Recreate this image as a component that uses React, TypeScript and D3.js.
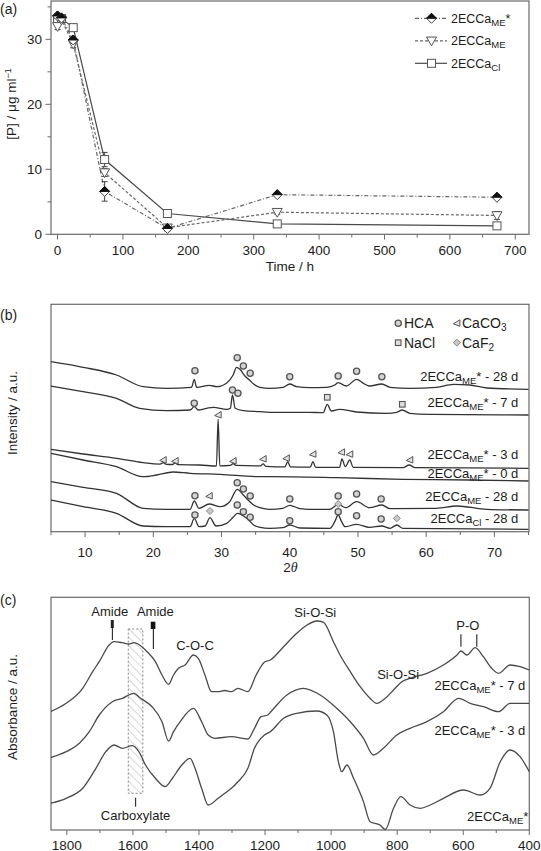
import React from 'react';
import * as d3 from 'd3';

const W = 541, H = 851;
const FONT = "'Liberation Sans', Arial, Helvetica, sans-serif";
const TXT = '#1c1c1c';
const FRAME = '#6a6a6a';

// ---------- Panel (a): [P] vs time ----------
const timeH = [0, 6, 24, 72, 168, 336, 672];
const pMEstar = [33.6, 33.3, 29.9, 6.6, 0.9, 6.1, 5.7];
const pMEstarErr = [0.4, 0.3, 0.5, 1.5, 0.3, 0.3, 0.3];
const pME = [32.0, 33.0, 29.3, 9.5, 1.0, 3.4, 2.9];
const pMEErr = [0.5, 0.3, 0.6, 0.6, 0.5, 0.3, 0.6];
const pCI = [33.0, 33.2, 31.8, 11.5, 3.2, 1.6, 1.3];
const pCIErr = [0.4, 0.3, 0.4, 1.1, 0.3, 0.4, 0.3];
const aXMajor = [0, 100, 200, 300, 400, 500, 600, 700];
const aXMinor = [50, 150, 250, 350, 450, 550, 650];
const aYMajor = [0, 10, 20, 30];
const aYMinor = [5, 15, 25, 35];

// ---------- Panel (b): XRD ----------
type Pt = [number, number];
const xrdMEstar28d: Pt[] = [[5,170.0],[9.7,164.4],[14.6,156.7],[18.5,145.0],[21.9,143.4],[25.6,144.4],[26.0,152.4],[26.35,144.4],[28.2,146.4],[29.3,145.0],[30.8,149.0],[31.7,156.7],[32.2,164.4],[32.7,162.4],[33.4,156.0],[34.1,151.7],[34.7,147.7],[35.65,144.4],[37.06,143.4],[39.0,144.4],[40.0,147.7],[41.0,145.0],[42.9,144.0],[45.4,144.4],[46.6,146.7],[47.1,149.0],[48.3,145.7],[49.8,152.4],[50.8,148.4],[51.7,145.7],[53.5,147.7],[54.7,144.4],[57.6,143.4],[61.5,144.4],[64.0,147.4],[66.4,146.7],[68.9,143.7],[75,142.4]];
const xrdMEstar7d: Pt[] = [[5,145.7],[9.7,140.0],[14.6,133.4],[18.0,123.4],[21.9,121.0],[25.4,121.7],[26.0,125.0],[26.6,121.7],[27.8,123.4],[28.8,124.4],[30.75,122.4],[31.3,123.5],[31.6,136.7],[32.0,123.4],[33.2,121.0],[35.65,120.0],[37.06,119.4],[42.9,119.4],[44.9,119.0],[45.5,127.4],[46.1,120.7],[47.3,122.4],[49.8,119.7],[54.2,118.4],[55.7,119.4],[56.5,121.7],[57.6,118.4],[60.55,117.4],[75,116.7]];
const xrdMEstar3d: Pt[] = [[5,82.4],[9.7,77.7],[14.6,73.4],[18.5,69.0],[21.0,67.6],[21.45,69.0],[21.9,67.4],[22.8,67.2],[23.2,68.8],[23.6,67.0],[26.8,66.7],[29.25,65.7],[29.5,112.4],[29.75,65.9],[31.3,66.4],[31.7,68.0],[32.1,66.3],[35.7,65.8],[36.1,67.8],[36.5,65.4],[39.3,64.9],[39.7,70.0],[40.1,64.8],[43.0,64.5],[43.4,70.0],[43.8,64.4],[47.3,64.4],[47.65,72.7],[48.15,65.0],[48.8,71.7],[49.3,64.4],[56.6,64.0],[57.5,66.7],[58.4,64.0],[75,63.4]];
const xrdMEstar0d: Pt[] = [[5,78.4],[9.7,71.7],[14.6,65.0],[18.5,55.0],[20.5,56.7],[22.9,59.7],[25.4,58.4],[29.8,57.4],[35.65,55.0],[37.06,55.0],[46.85,54.0],[56.6,52.4],[66.4,51.7],[75,50.7]];
const xrdME28d: Pt[] = [[5,50.0],[9.7,44.4],[14.6,38.4],[18.5,23.4],[21.9,22.4],[25.4,22.4],[26.0,30.7],[26.7,23.4],[28.2,27.7],[29.8,25.0],[31.2,30.0],[32.3,42.4],[33.2,36.7],[33.9,31.7],[34.7,26.7],[35.65,24.0],[37.06,22.4],[39.0,23.4],[40.0,26.4],[41.5,23.0],[42.9,22.4],[45.9,22.4],[47.1,27.4],[48.2,24.0],[49.8,30.0],[51.7,24.0],[53.5,26.7],[54.7,23.0],[61.5,23.4],[64.5,25.7],[68.9,22.4],[75,21.7]];
const xrdCI28d: Pt[] = [[5,31.7],[9.7,25.0],[14.6,18.4],[18.5,5.7],[21.9,5.0],[25.4,5.0],[26.0,13.4],[26.7,5.0],[27.6,5.7],[28.3,14.0],[29.2,5.7],[30.75,8.4],[31.7,14.4],[32.3,18.4],[33.7,13.4],[34.7,6.7],[35.65,4.4],[37.06,3.4],[39.0,4.0],[40.0,6.7],[41.5,3.7],[45.9,3.4],[46.6,10.0],[47.1,16.7],[47.6,10.0],[48.1,5.0],[49.8,7.4],[51.7,4.4],[53.5,5.7],[54.7,3.4],[55.7,6.7],[56.6,3.4],[75,2.4]];
const xrdCurves = [xrdMEstar28d, xrdMEstar7d, xrdMEstar3d, xrdMEstar0d, xrdME28d, xrdCI28d];
const xrdLabelSub = ['ME', 'ME', 'ME', 'ME', 'ME', 'Cl'];
const xrdLabelStar = ['*', '*', '*', '*', '', ''];
const xrdLabelTail = [' - 28 d', ' - 7 d', ' - 3 d', ' - 0 d', ' - 28 d', ' - 28 d'];
const xrdLabelLevel = [150.7, 124.7, 72.7, 53.7, 30.7, 8.7];
const hcaMarks: Pt[] = [[26.1,161.0],[32.3,174.0],[33.2,165.7],[34.2,158.4],[40.0,155.0],[47.1,155.7],[49.8,160.4],[53.5,155.0],[26.0,128.4],[31.6,141.7],[32.4,138.4],[26.1,36.0],[32.3,49.0],[33.2,42.7],[34.2,35.7],[40.0,32.7],[47.1,35.7],[49.8,37.7],[53.4,32.7],[26.1,16.7],[32.3,26.7],[33.2,20.0],[34.2,14.4],[40.0,11.0],[47.1,20.0],[49.8,16.0],[53.4,12.7]];
const naclMarks: Pt[] = [[45.5,134.4],[56.5,127.4]];
const caco3Marks: Pt[] = [[21.45,71.7],[23.2,70.7],[29.5,116.7],[31.7,70.7],[36.1,72.7],[39.5,73.4],[43.4,77.4],[47.6,79.4],[48.8,77.4],[57.6,71.7],[28.2,35.7]];
const caf2Marks: Pt[] = [[28.3,20.7],[55.7,13.4],[47.1,27.7]];
const bXMajor = [10, 20, 30, 40, 50, 60, 70];
const bXMinor = [5, 15, 25, 35, 45, 55, 65, 75];

// ---------- Panel (c): FTIR ----------
const ftir7d: Pt[] = [[1850,118.3],[1802,126.7],[1752,141.7],[1722,158.3],[1702,168.3],[1672,185.0],[1657,188.3],[1632,187.3],[1612,186.0],[1597,187.3],[1577,184.3],[1557,178.3],[1532,168.3],[1512,155.0],[1492,145.7],[1477,155.0],[1462,161.7],[1442,165.0],[1417,175.0],[1402,171.7],[1382,155.0],[1362,138.3],[1342,138.3],[1322,139.5],[1302,138.3],[1282,141.7],[1252,138.3],[1227,155.0],[1202,167.7],[1184,170.0],[1144,183.3],[1104,196.7],[1073,205.0],[1043,209.0],[1023,207.7],[993,188.3],[973,175.0],[942,158.3],[912,143.3],[882,131.7],[862,126.7],[836,131.7],[811,140.0],[786,148.3],[761,151.7],[710,156.7],[660,165.0],[619,175.0],[607,179.0],[589,175.0],[564,182.3],[539,173.3],[514,161.7],[493,156.7],[458,165.0],[428,163.3],[400,160.0]];
const ftir3d: Pt[] = [[1850,72.3],[1802,78.3],[1762,86.7],[1732,98.3],[1702,115.0],[1662,128.3],[1632,131.7],[1597,136.7],[1577,131.7],[1542,123.3],[1512,108.3],[1492,89.0],[1477,98.3],[1457,108.3],[1417,121.7],[1392,108.3],[1372,95.0],[1352,91.7],[1302,93.3],[1252,91.0],[1232,101.7],[1212,113.3],[1192,115.0],[1184,117.7],[1134,135.0],[1084,141.7],[1033,135.0],[983,121.7],[942,108.3],[902,91.7],[872,75.0],[842,81.7],[801,95.0],[761,101.7],[710,108.3],[660,118.3],[614,131.7],[579,126.7],[539,123.3],[493,118.3],[458,126.7],[400,126.7]];
const ftir0d: Pt[] = [[1850,26.7],[1802,31.7],[1752,41.7],[1712,61.7],[1682,78.3],[1657,85.0],[1632,81.7],[1602,84.3],[1582,78.3],[1562,65.0],[1532,51.7],[1502,43.3],[1482,51.0],[1452,65.0],[1427,71.7],[1412,61.7],[1392,41.7],[1372,25.0],[1342,31.7],[1322,36.7],[1302,41.7],[1282,48.3],[1252,61.7],[1232,81.7],[1202,95.0],[1184,98.3],[1144,111.7],[1104,116.7],[1043,119.0],[1013,115.0],[993,98.3],[978,68.3],[968,58.3],[952,65.0],[932,51.7],[902,28.3],[882,8.3],[852,5.0],[836,0.5],[811,21.7],[789,33.3],[761,25.0],[730,21.7],[700,25.0],[660,31.7],[599,40.0],[549,35.0],[519,41.7],[488,68.3],[458,80.0],[428,73.3],[400,58.3]];
const ftirCurves = [ftir7d, ftir3d, ftir0d];
const ftirLabelTail = [' - 7 d', ' - 3 d', ''];
const ftirLabelLevel = [140, 95, 9];
const cXMajor = [1800, 1600, 1400, 1200, 1000, 800, 600, 400];
const cXMinor = [1700, 1500, 1300, 1100, 900, 700, 500];
const bandLabels = [
  { text: 'Amide', wn: 1670, v: 214 },
  { text: 'Amide', wn: 1532, v: 214 },
  { text: 'C-O-C', wn: 1412, v: 180 },
  { text: 'Si-O-Si', wn: 1048, v: 213 },
  { text: 'Si-O-Si', wn: 797, v: 151 },
  { text: 'P-O', wn: 586, v: 200 },
  { text: 'Carboxylate', wn: 1592, v: 10 },
];
const poLines = [607, 559];

function EcLabel({ x, y, sub, star, tail, anchor, size, subSize }:
  { x: number; y: number; sub: string; star: string; tail: string; anchor: string; size: number; subSize: number }) {
  return (
    <text x={x} y={y} textAnchor={anchor} fontSize={size} fill={TXT}>
      <tspan>2ECCa</tspan>
      <tspan dy={3} fontSize={subSize}>{sub}</tspan>
      <tspan dy={-3}>{star}{tail}</tspan>
    </text>
  );
}

function Diamond({ x, y, s }: { x: number; y: number; s: number }) {
  return (
    <g transform={`translate(${x},${y})`}>
      <path d={`M0,${-s}L${s},0L0,${s}L${-s},0Z`} fill="#fff" stroke="#444" strokeWidth={1} />
      <path d={`M0,${-s}L${s},0L${-s},0Z`} fill="#111" stroke="#111" strokeWidth={1} />
    </g>
  );
}
function TriDown({ x, y, s }: { x: number; y: number; s: number }) {
  return <path transform={`translate(${x},${y})`} d={`M${-s},${-s * 0.75}L${s},${-s * 0.75}L0,${s}Z`} fill="#fff" stroke="#555" strokeWidth={1} />;
}
function Sq({ x, y, s }: { x: number; y: number; s: number }) {
  return <rect x={x - s} y={y - s} width={2 * s} height={2 * s} fill="#fff" stroke="#555" strokeWidth={1} />;
}

export default function App() {
  // scales
  const ax = d3.scaleLinear().domain([-10, 721]).range([51, 529]);
  const ay = d3.scaleLinear().domain([0, 35.9]).range([234.3, 1]);
  const bx = d3.scaleLinear().domain([5, 75]).range([51, 528.5]);
  const by = d3.scaleLinear().domain([0, 227.4]).range([531.7, 304.3]);
  const cx = d3.scaleLinear().domain([1848, 400]).range([51, 529.3]);
  const cy = d3.scaleLinear().domain([0, 232.7]).range([830, 597.3]);

  const seriesA = [
    { vals: pCI, err: pCIErr, dash: '', color: '#4a4a4a', kind: 'sq', sub: 'Cl', star: '' },
    { vals: pME, err: pMEErr, dash: '3,2', color: '#666', kind: 'tri', sub: 'ME', star: '' },
    { vals: pMEstar, err: pMEstarErr, dash: '4,2,1,2', color: '#666', kind: 'dia', sub: 'ME', star: '*' },
  ];
  const lineA = (vals: number[]) =>
    d3.line<number>().x((_, i) => ax(timeH[i])).y((d) => ay(d))(vals) || '';
  const marker = (kind: string, x: number, y: number, key?: any) =>
    kind === 'sq' ? <Sq key={key} x={x} y={y} s={4} /> : kind === 'tri' ? <TriDown key={key} x={x} y={y} s={5} /> : <Diamond key={key} x={x} y={y} s={5} />;

  const lineB = d3.line<Pt>().x((d) => bx(d[0])).y((d) => by(d[1])).curve(d3.curveMonotoneX);
  const lineC = d3.line<Pt>().x((d) => cx(d[0])).y((d) => cy(d[1])).curve(d3.curveMonotoneX);

  const legendA = [seriesA[2], seriesA[1], seriesA[0]];

  return (
    <svg width={W} height={H} style={{ position: 'absolute', left: 0, top: 0, background: '#fff' }} fontFamily={FONT}>
      <defs>
        <pattern id="hatch" width="6" height="6" patternUnits="userSpaceOnUse" patternTransform="rotate(-45)">
          <line x1="0" y1="0" x2="0" y2="6" stroke="#b0b0b0" strokeWidth="1" />
        </pattern>
        <clipPath id="clipB"><rect x={51} y={304.3} width={478} height={227.4} /></clipPath>
        <clipPath id="clipC"><rect x={51} y={597.3} width={478.3} height={232.7} /></clipPath>
      </defs>

      {/* ================= Panel (a) ================= */}
      <text x={0} y={14} fontSize={14} fill={TXT}>(a)</text>
      <rect x={51} y={1} width={478} height={233.3} fill="none" stroke={FRAME} strokeWidth={1.2} />
      {aXMajor.map((t) => (
        <g key={'axM' + t}>
          <line x1={ax(t)} x2={ax(t)} y1={234.3} y2={239.5} stroke={FRAME} strokeWidth={1} />
          <text x={ax(t)} y={255} textAnchor="middle" fontSize={13.5} fill={TXT}>{t}</text>
        </g>
      ))}
      {aXMinor.map((t) => (
        <line key={'axm' + t} x1={ax(t)} x2={ax(t)} y1={234.3} y2={237.5} stroke={FRAME} strokeWidth={1} />
      ))}
      {aYMajor.map((t) => (
        <g key={'ayM' + t}>
          <line x1={45.5} x2={51} y1={ay(t)} y2={ay(t)} stroke={FRAME} strokeWidth={1} />
          <text x={42} y={ay(t) + 5} textAnchor="end" fontSize={13.5} fill={TXT}>{t}</text>
        </g>
      ))}
      {aYMinor.map((t) => (
        <line key={'aym' + t} x1={47.5} x2={51} y1={ay(t)} y2={ay(t)} stroke={FRAME} strokeWidth={1} />
      ))}
      <text x={290} y={271} textAnchor="middle" fontSize={13.5} fill={TXT}>Time / h</text>
      <text transform="translate(16,104) rotate(-90)" textAnchor="middle" fontSize={13.5} fill={TXT}>
        <tspan>[P] / μg ml</tspan>
        <tspan dy={-5} fontSize={9}>−1</tspan>
      </text>
      {seriesA.map((s, si) => (
        <path key={'la' + si} d={lineA(s.vals)} fill="none" stroke={s.color} strokeWidth={1.2} strokeDasharray={s.dash || undefined} />
      ))}
      {seriesA.map((s, si) => (
        <g key={'ea' + si}>
          {s.vals.map((v, i) => (
            <g key={i} stroke="#444" strokeWidth={1}>
              <line x1={ax(timeH[i])} x2={ax(timeH[i])} y1={ay(v - s.err[i])} y2={ay(v + s.err[i])} />
              <line x1={ax(timeH[i]) - 3} x2={ax(timeH[i]) + 3} y1={ay(v - s.err[i])} y2={ay(v - s.err[i])} />
              <line x1={ax(timeH[i]) - 3} x2={ax(timeH[i]) + 3} y1={ay(v + s.err[i])} y2={ay(v + s.err[i])} />
            </g>
          ))}
          {s.vals.map((v, i) => marker(s.kind, ax(timeH[i]), ay(v), i))}
        </g>
      ))}
      {legendA.map((s, i) => {
        const y = 18.3 + i * 22.5;
        return (
          <g key={'lg' + i}>
            <line x1={415} x2={447} y1={y} y2={y} stroke={s.color} strokeWidth={1.2} strokeDasharray={s.dash || undefined} />
            {marker(s.kind, 431.5, y)}
            <EcLabel x={451} y={y + 4.5} sub={s.sub} star={s.star} tail="" anchor="start" size={12.5} subSize={9.5} />
          </g>
        );
      })}

      {/* ================= Panel (b) ================= */}
      <text x={0} y={320} fontSize={14} fill={TXT}>(b)</text>
      <rect x={51} y={304.3} width={478} height={227.4} fill="none" stroke={FRAME} strokeWidth={1.2} />
      {bXMajor.map((t) => (
        <g key={'bxM' + t}>
          <line x1={bx(t)} x2={bx(t)} y1={531.7} y2={537} stroke={FRAME} strokeWidth={1} />
          <text x={bx(t)} y={556.5} textAnchor="middle" fontSize={13.5} fill={TXT}>{t}</text>
        </g>
      ))}
      {bXMinor.map((t) => (
        <line key={'bxm' + t} x1={bx(t)} x2={bx(t)} y1={531.7} y2={535} stroke={FRAME} strokeWidth={1} />
      ))}
      <text x={290.5} y={572} textAnchor="middle" fontSize={13.5} fill={TXT}>
        <tspan>2</tspan>
        <tspan fontStyle="italic" fontFamily="'Liberation Serif', 'Times New Roman', serif" fontSize={14}>θ</tspan>
      </text>
      <text transform="translate(17,413) rotate(-90)" textAnchor="middle" fontSize={13.5} fill={TXT}>Intensity / a.u.</text>
      <g clipPath="url(#clipB)">
        {xrdCurves.map((c, i) => (
          <path key={'xc' + i} d={lineB(c) || ''} fill="none" stroke="#333" strokeWidth={1.3} />
        ))}
      </g>
      {hcaMarks.map((p, i) => (
        <circle key={'h' + i} cx={bx(p[0])} cy={by(p[1])} r={3.1} fill="#d4d4d4" stroke="#555" strokeWidth={1.3} />
      ))}
      {naclMarks.map((p, i) => (
        <rect key={'n' + i} x={bx(p[0]) - 2.8} y={by(p[1]) - 2.8} width={5.6} height={5.6} fill="#ddd" stroke="#555" strokeWidth={1.1} />
      ))}
      {caco3Marks.map((p, i) => (
        <path key={'cc' + i} transform={`translate(${bx(p[0])},${by(p[1])})`} d="M-3.5,0.5L3,-3.5L3,3Z" fill="#e4e4e4" stroke="#555" strokeWidth={1} />
      ))}
      {caf2Marks.map((p, i) => (
        <path key={'cf' + i} transform={`translate(${bx(p[0])},${by(p[1])})`} d="M0,-3.5L3.5,0L0,3.5L-3.5,0Z" fill="#c8c8c8" stroke="#888" strokeWidth={1} />
      ))}
      {/* legend (b) */}
      <circle cx={bx(55.9)} cy={by(208.4)} r={3.1} fill="#d4d4d4" stroke="#555" strokeWidth={1.3} />
      <text x={bx(56.75)} y={by(203.5)} fontSize={14} fill={TXT}>HCA</text>
      <path transform={`translate(${bx(64.5)},${by(208.4)})`} d="M-3.5,0.5L3,-3.5L3,3Z" fill="#e4e4e4" stroke="#555" strokeWidth={1} />
      <text x={bx(65.25)} y={by(203.5)} fontSize={14} fill={TXT}>
        <tspan>CaCO</tspan><tspan dy={3} fontSize={10}>3</tspan>
      </text>
      <rect x={bx(55.9) - 2.8} y={by(189) - 2.8} width={5.6} height={5.6} fill="#ddd" stroke="#555" strokeWidth={1.1} />
      <text x={bx(56.75)} y={by(184.2)} fontSize={14} fill={TXT}>NaCl</text>
      <path transform={`translate(${bx(64.5)},${by(189)})`} d="M0,-3.5L3.5,0L0,3.5L-3.5,0Z" fill="#c8c8c8" stroke="#888" strokeWidth={1} />
      <text x={bx(65.25)} y={by(184.2)} fontSize={14} fill={TXT}>
        <tspan>CaF</tspan><tspan dy={3} fontSize={10}>2</tspan>
      </text>
      {xrdLabelLevel.map((v, i) => (
        <EcLabel key={'xl' + i} x={bx(73.5)} y={by(v)} sub={xrdLabelSub[i]} star={xrdLabelStar[i]} tail={xrdLabelTail[i]} anchor="end" size={13} subSize={9.5} />
      ))}

      {/* ================= Panel (c) ================= */}
      <text x={0} y={605} fontSize={14} fill={TXT}>(c)</text>
      <rect x={51} y={597.3} width={478.3} height={232.7} fill="none" stroke={FRAME} strokeWidth={1.2} />
      {cXMajor.map((t) => (
        <g key={'cxM' + t}>
          <line x1={cx(t)} x2={cx(t)} y1={830} y2={835} stroke={FRAME} strokeWidth={1} />
          <text x={cx(t)} y={849.5} textAnchor="middle" fontSize={13.5} fill={TXT}>{t}</text>
        </g>
      ))}
      {cXMinor.map((t) => (
        <line key={'cxm' + t} x1={cx(t)} x2={cx(t)} y1={830} y2={833} stroke={FRAME} strokeWidth={1} />
      ))}
      <text transform="translate(17,707) rotate(-90)" textAnchor="middle" fontSize={13.5} fill={TXT}>Absorbance / a.u.</text>
      {/* carboxylate hatched band */}
      <rect x={cx(1614)} y={cy(201)} width={cx(1570) - cx(1614)} height={cy(36.7) - cy(201)} fill="url(#hatch)" stroke="#888" strokeWidth={1} strokeDasharray="2,2" />
      <g clipPath="url(#clipC)">
        {ftirCurves.map((c, i) => (
          <path key={'fc' + i} d={lineC(c) || ''} fill="none" stroke="#4a4a4a" strokeWidth={1.3} />
        ))}
      </g>
      {/* amide markers */}
      <rect x={cx(1667)} y={cy(210)} width={3} height={cy(202) - cy(210)} fill="#222" />
      <line x1={cx(1662)} x2={cx(1662)} y1={cy(202)} y2={cy(190)} stroke="#333" strokeWidth={1.2} />
      <rect x={cx(1546)} y={cy(208.3)} width={cx(1532) - cx(1546)} height={cy(201) - cy(208.3)} fill="#111" />
      <line x1={cx(1538)} x2={cx(1538)} y1={cy(201)} y2={cy(181)} stroke="#333" strokeWidth={1.2} />
      <line x1={cx(1592)} x2={cx(1592)} y1={cy(32.3)} y2={cy(23.3)} stroke="#333" strokeWidth={1.2} />
      {poLines.map((wn) => (
        <line key={'po' + wn} x1={cx(wn)} x2={cx(wn)} y1={cy(195.7)} y2={cy(183.3)} stroke="#333" strokeWidth={1.2} />
      ))}
      {bandLabels.map((b, i) => (
        <text key={'bl' + i} x={cx(b.wn)} y={cy(b.v)} textAnchor="middle" fontSize={13} fill={TXT}>{b.text}</text>
      ))}
      {ftirLabelLevel.map((v, i) => (
        <EcLabel key={'fl' + i} x={i === 2 ? cx(403) : cx(412)} y={cy(v)} sub="ME" star="*" tail={ftirLabelTail[i]} anchor="end" size={13} subSize={9.5} />
      ))}
    </svg>
  );
}
